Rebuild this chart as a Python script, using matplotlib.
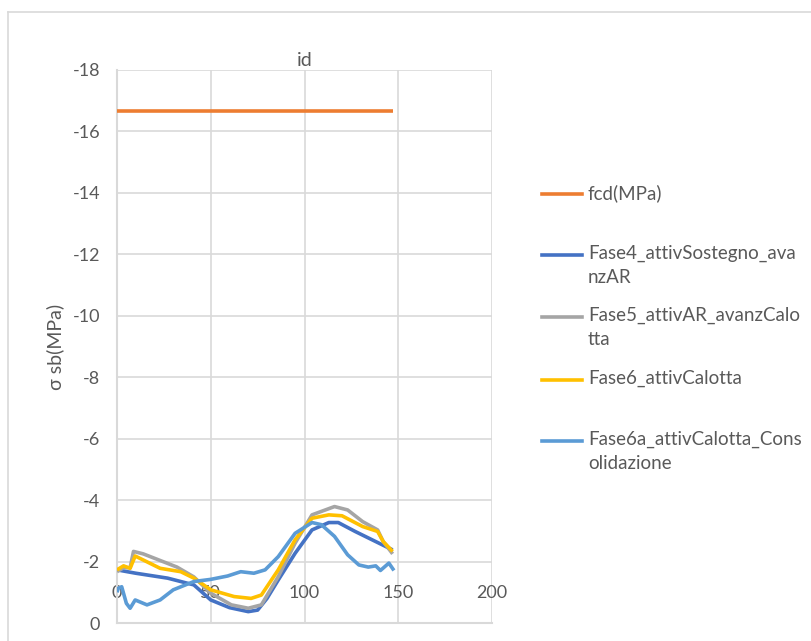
import matplotlib.pyplot as plt
from matplotlib.lines import Line2D

# Dati (x = id, y = sigma in MPa)
fcd_x = [0, 147]
fcd_y = [-16.65, -16.65]

fase4_x = [0, 10, 27, 41, 50, 60, 70, 75, 80, 86, 95, 104, 113, 118, 127, 138, 147]
fase4_y = [-1.73, -1.62, -1.46, -1.24, -0.75, -0.5, -0.37, -0.42, -0.8, -1.4,
           -2.27, -3.03, -3.27, -3.27, -2.98, -2.65, -2.38]

fase5_x = [0, 3.5, 7, 8.8, 14, 32, 41, 50, 61, 70, 77, 86, 95, 104, 116, 123,
           131, 139, 142, 147]
fase5_y = [-1.67, -1.8, -1.8, -2.33, -2.25, -1.82, -1.5, -0.97, -0.59, -0.48,
           -0.59, -1.51, -2.6, -3.52, -3.79, -3.68, -3.3, -3.03, -2.65, -2.25]

fase6_x = [0, 3.5, 7, 9.7, 23, 34, 41, 50, 62.5, 71.5, 77, 86, 95, 104, 113,
           120, 131, 139, 142, 147]
fase6_y = [-1.73, -1.86, -1.78, -2.18, -1.78, -1.67, -1.46, -1.08, -0.86, -0.8,
           -0.91, -1.73, -2.71, -3.41, -3.52, -3.49, -3.14, -2.98, -2.65, -2.33]

fase6a_x = [0, 0.7, 2.5, 5, 7, 9.7, 16, 23, 30, 41, 50, 59, 66, 73, 79, 86,
            95, 104, 109, 116, 123, 129, 134, 138, 140.5, 145, 147.7]
fase6a_y = [-1.0, -1.13, -1.18, -0.64, -0.48, -0.75, -0.59, -0.75, -1.08,
            -1.35, -1.42, -1.53, -1.67, -1.62, -1.73, -2.16, -2.92, -3.27,
            -3.2, -2.82, -2.22, -1.89, -1.82, -1.86, -1.71, -1.95, -1.71]

series_labels = [
    "fcd(MPa)",
    "Fase4_attivSostegno_ava\nnzAR",
    "Fase5_attivAR_avanzCalo\ntta",
    "Fase6_attivCalotta",
    "Fase6a_attivCalotta_Cons\nolidazione",
]
series_colors = ["#ED7D31", "#4472C4", "#A5A5A5", "#FFC000", "#5B9BD5"]

x_ticks = [0, 50, 100, 150, 200]
y_ticks = [0, -2, -4, -6, -8, -10, -12, -14, -16, -18]

text_color = "#595959"
grid_color = "#D9D9D9"

plt.rcParams["font.family"] = ["Lato", "DejaVu Sans"]
plt.rcParams["axes.unicode_minus"] = False

fig_w, fig_h = 811, 641
figure = plt.figure(figsize=(fig_w / 100, fig_h / 100), dpi=100)

# area del grafico in pixel
left, right, top, bottom = 117, 492, 70, 623
axis = figure.add_axes([
    left / fig_w,
    1 - bottom / fig_h,
    (right - left) / fig_w,
    (bottom - top) / fig_h,
])

all_series = [
    (fcd_x, fcd_y),
    (fase4_x, fase4_y),
    (fase5_x, fase5_y),
    (fase6_x, fase6_y),
    (fase6a_x, fase6a_y),
]
for (xs, ys), color in zip(all_series, series_colors):
    axis.plot(xs, ys, color=color, linewidth=2.6, solid_capstyle="butt",
              solid_joinstyle="round", zorder=3)

axis.set_xlim(0, 200)
axis.set_ylim(0, -18)
axis.set_xticks(x_ticks)
axis.set_yticks(y_ticks)
axis.grid(True, color=grid_color, linewidth=1.2)
axis.set_axisbelow(True)

for side in ["top", "right"]:
    axis.spines[side].set_visible(False)
for side in ["left", "bottom"]:
    axis.spines[side].set_color(grid_color)
    axis.spines[side].set_linewidth(1.5)

axis.tick_params(axis="both", length=0, labelsize=13, labelcolor=text_color)
axis.tick_params(axis="y", pad=12)
axis.tick_params(axis="x", pad=-27)

axis.set_title("id", fontsize=14, color=text_color, pad=3)
axis.set_ylabel("σ sb(MPa)", fontsize=14, color=text_color, labelpad=6)

# bordo dell'area del grafico (stile Excel)
figure.add_artist(Line2D([8 / fig_w, 8 / fig_w], [1 - 12 / fig_h, 0],
                         transform=figure.transFigure, color=grid_color, linewidth=1.2))
figure.add_artist(Line2D([8 / fig_w, 1], [1 - 12 / fig_h, 1 - 12 / fig_h],
                         transform=figure.transFigure, color=grid_color, linewidth=1.2))

# legenda a destra, testo a capo come in Excel
legend_rows = [194, 255, 317, 380, 441]
for label, color, row in zip(series_labels, series_colors, legend_rows):
    y_fig = 1 - row / fig_h
    figure.add_artist(Line2D([542 / fig_w, 582 / fig_w], [y_fig, y_fig],
                             transform=figure.transFigure, color=color, linewidth=2.6))
    figure.text(588 / fig_w, 1 - (row - 10) / fig_h, label, fontsize=13.5,
                color=text_color, va="top", ha="left", linespacing=1.45)

figure.savefig("out.png", dpi=100)
plt.close(figure)
